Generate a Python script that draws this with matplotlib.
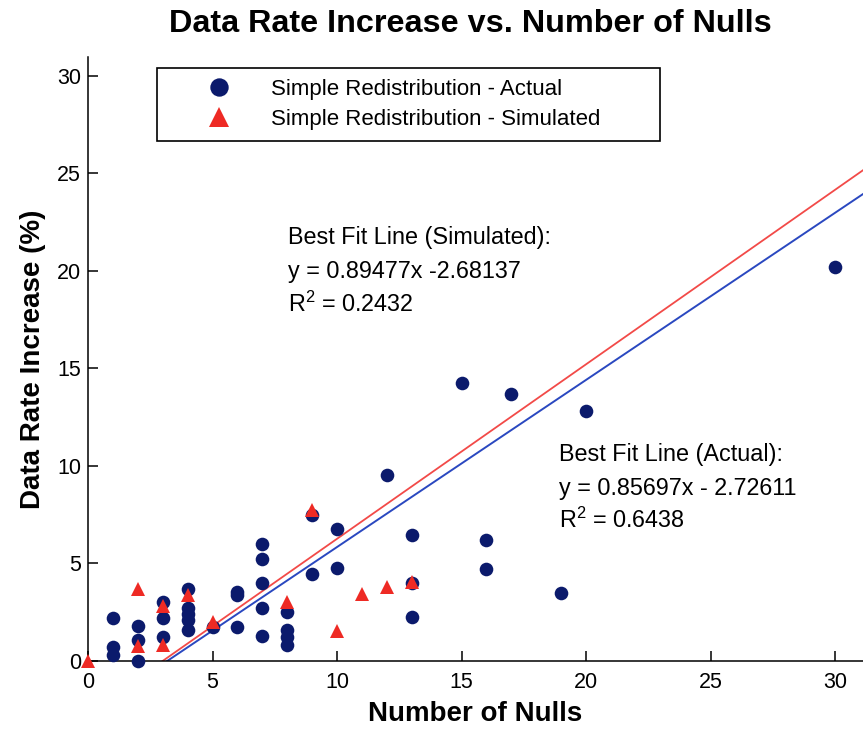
import numpy as np
import matplotlib
matplotlib.use("Agg")
import matplotlib.pyplot as plt

plt.rcParams["font.family"] = ["Liberation Sans", "DejaVu Sans"]
plt.rcParams["mathtext.fontset"] = "custom"
plt.rcParams["mathtext.rm"] = "Liberation Sans"
plt.rcParams["mathtext.it"] = "Liberation Sans:italic"

actual_nulls = [1, 1, 1, 2, 2, 2, 3, 3, 3, 4, 4, 4, 4, 4, 5, 6, 6, 6,
                7, 7, 7, 7, 7, 8, 8, 8, 8, 9, 9, 10, 10, 12, 13, 13, 13,
                15, 16, 16, 17, 19, 20, 30]
actual_rate = [2.2, 0.7, 0.3, 1.8, 1.1, 0.0, 3.0, 2.2, 1.25, 3.7, 2.7, 2.4, 2.1, 1.6, 1.75, 3.55, 3.4, 1.75,
               6.0, 5.25, 4.0, 2.7, 1.3, 2.5, 1.6, 1.25, 0.8, 7.5, 4.45, 6.75, 4.75, 9.55, 6.45, 4.0, 2.25,
               14.25, 6.2, 4.7, 13.7, 3.5, 12.8, 20.2]

sim_nulls = [0, 2, 2, 3, 3, 4, 5, 8, 9, 10, 11, 12, 13]
sim_rate = [0.0, 3.7, 0.75, 2.8, 0.8, 3.4, 2.0, 3.0, 7.75, 1.55, 3.45, 3.8, 4.05]

# best fit coefficients as printed on the chart
fit_actual = (0.85697, -2.72611)
fit_sim = (0.89477, -2.68137)
r2_actual = "0.6438"
r2_sim = "0.2432"

x_ticks = [0, 5, 10, 15, 20, 25, 30]
y_ticks = [0, 5, 10, 15, 20, 25, 30]

navy = "#0b1a6c"
red = "#ee2a24"
line_blue = "#2a48c0"
line_red = "#f24a48"

W, H = 863, 729
fig = plt.figure(figsize=(W / 100, H / 100), dpi=100)
ax = fig.add_axes([88 / W, 1 - 661 / H, (863 - 88) / W, (661 - 57) / H])

xmax = 31.12
ymax = 30.97
ax.set_xlim(0, xmax)
ax.set_ylim(0, ymax)

xs = np.linspace(0, xmax + 1, 200)
ax.plot(xs, fit_sim[0] * xs + fit_sim[1], color=line_red, lw=1.3, zorder=2)
ax.plot(xs, fit_actual[0] * xs + fit_actual[1], color=line_blue, lw=1.4, zorder=2)

ax.plot(actual_nulls, actual_rate, "o", color=navy, ms=9.8, mew=0,
        label="Simple Redistribution - Actual", clip_on=False, zorder=3)
ax.plot(sim_nulls, sim_rate, "^", color=red, ms=10.5, mew=0,
        label="Simple Redistribution - Simulated", clip_on=False, zorder=4)

for side in ["top", "right"]:
    ax.spines[side].set_visible(False)
for side in ["left", "bottom"]:
    ax.spines[side].set_linewidth(1.1)
    ax.spines[side].set_color("black")

ax.set_xticks(x_ticks)
ax.set_yticks(y_ticks)
ax.tick_params(direction="in", length=7, width=1.1, labelsize=15.5, colors="black")
ax.tick_params(axis="x", pad=8)
ax.tick_params(axis="y", pad=5)

ax.set_xlabel("Number of Nulls", fontsize=20, fontweight="bold", labelpad=6)
ax.set_ylabel("Data Rate Increase (%)", fontsize=20, fontweight="bold", labelpad=8)
fig.text(470 / W, 1 - 24 / H, "Data Rate Increase vs. Number of Nulls",
         fontsize=23.3, fontweight="bold", ha="center", va="center")

leg = ax.legend(loc="upper left", mode="expand",
                bbox_to_anchor=((157 - 88) / 775, (661 - 148) / 604, (660 - 157) / 775, (148 - 68) / 604),
                fontsize=16, markerscale=1.35, handlelength=4.6, handletextpad=0.05,
                borderpad=0.5, labelspacing=0.4, fancybox=False, framealpha=1,
                edgecolor="black", borderaxespad=0)
leg.get_frame().set_linewidth(1.2)

ann_size = 16.8
ax.text(8.05, 21.7, "Best Fit Line (Simulated):", fontsize=ann_size, va="center")
ax.text(8.05, 19.95, f"y = {fit_sim[0]}x -{abs(fit_sim[1])}", fontsize=ann_size, va="center")
ax.text(8.05, 18.3, "R$^2$ = " + r2_sim, fontsize=ann_size, va="center")

ax.text(18.9, 10.6, "Best Fit Line (Actual):", fontsize=ann_size, va="center")
ax.text(18.9, 8.85, f"y = {fit_actual[0]}x - {abs(fit_actual[1])}", fontsize=ann_size, va="center")
ax.text(18.9, 7.2, "R$^2$ = " + r2_actual, fontsize=ann_size, va="center")

fig.savefig("out.png", dpi=100)
